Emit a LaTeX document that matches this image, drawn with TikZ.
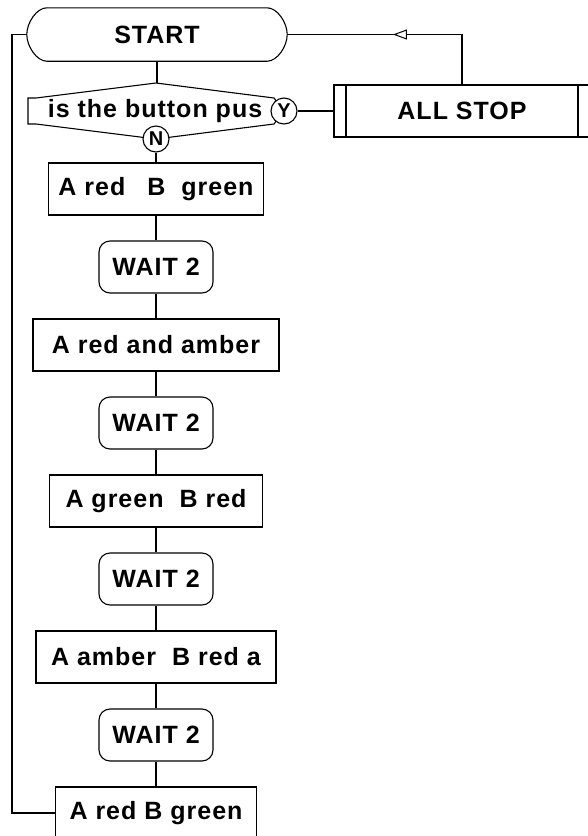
\documentclass[tikz,border=0pt]{standalone}
\usepackage{fontspec}
\setmainfont{Liberation Sans}[LetterSpace=4]
\usetikzlibrary{arrows.meta,decorations.markings}
\newcommand{\dsp}{\hspace{16pt}}
\begin{document}
\begin{tikzpicture}[x=1pt,y=1pt,
  line/.style={line width=1.1pt},
  txt/.style={font=\bfseries\fontsize{25}{29}\selectfont, inner sep=0pt},
  procbox/.style={txt, draw, line width=1.1pt, minimum height=52pt},
  waitbox/.style={procbox, rounded corners=11pt, minimum width=114pt},
  yn/.style={circle, draw, fill=white, minimum size=26pt, inner sep=0pt, line width=1.1pt,
    font=\bfseries\fontsize{20}{22}\selectfont},
  conn/.style={line width=1.1pt}]
\fill[white] (0,0) rectangle (587,-836);
\useasboundingbox (0,0) rectangle (587,-836);

% START terminal
\node[txt, minimum width=260pt, minimum height=53pt] (start) at (157,-34.5) {START};
\draw[line] (start.west) .. controls +(0,12) and +(-10,0) .. ([xshift=20pt]start.north west)
  -- ([xshift=-20pt]start.north east) .. controls +(10,0) and +(0,12) .. (start.east)
  .. controls +(0,-12) and +(10,0) .. ([xshift=-20pt]start.south east)
  -- ([xshift=20pt]start.south west) .. controls +(-10,0) and +(0,-12) .. (start.west);

% decision
\node[txt, minimum width=256pt, minimum height=56pt] (dec) at (155,-111) {is the button pus};
\draw[line] (28,-124) -- (28,-98) -- (36,-98) -- (156,-83) -- (274,-98) -- (284,-111)
  -- (274,-124) -- (156,-139) -- (36,-124) -- cycle;
\node[yn] (cy) at (284,-111) {Y};
\node[yn] (cn) at (156,-139) {N};

% process chain
\node[procbox, minimum width=215pt] (b1) at (156,-189) {A red\hspace{22pt}B\hspace{16pt}green};
\node[waitbox] (w1) at (156,-267) {WAIT 2};
\node[procbox, minimum width=246pt] (b2) at (156,-345) {A red and amber};
\node[waitbox] (w2) at (156,-423) {WAIT 2};
\node[procbox, minimum width=213pt] (b3) at (156,-501) {A green\dsp B red};
\node[waitbox] (w3) at (156,-579) {WAIT 2};
\node[procbox, minimum width=240pt] (b4) at (156,-657) {A amber\dsp B red a};
\node[waitbox] (w4) at (156,-735) {WAIT 2};
\node[procbox, minimum width=201pt] (b5) at (156,-813) {A red B green};

% ALL STOP predefined process
\node[procbox, minimum width=256pt] (stop) at (462,-111) {ALL STOP};
\draw[line width=2pt] ([xshift=13pt]stop.north west) -- ([xshift=13pt]stop.south west);
\draw[line width=2pt] ([xshift=-13pt]stop.north east) -- ([xshift=-13pt]stop.south east);

% connectors
\draw[conn] (start.south) -- (dec.north -| start.south);
\draw[conn] (cn.south) -- (b1.north);
\draw[conn] (b1.south) -- (w1.north);
\draw[conn] (w1.south) -- (b2.north);
\draw[conn] (b2.south) -- (w2.north);
\draw[conn] (w2.south) -- (b3.north);
\draw[conn] (b3.south) -- (w3.north);
\draw[conn] (w3.south) -- (b4.north);
\draw[conn] (b4.south) -- (w4.north);
\draw[conn] (w4.south) -- (b5.north);
\draw[conn] (cy.east) -- (stop.west);
\draw[conn, postaction={decorate}, decoration={markings,
  mark=at position 119pt with {\arrow[line width=1pt]{Triangle[fill=white,length=14pt,width=10pt]}}}]
  (stop.north) |- (start.east);
\coordinate (lx) at (12,-813);
\draw[conn] (b5.west) -- (lx) |- (start.west);
\end{tikzpicture}
\end{document}
